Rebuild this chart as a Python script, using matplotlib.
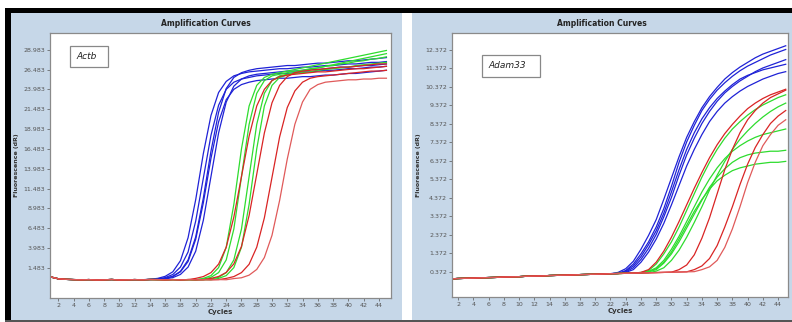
import numpy as np
import matplotlib
matplotlib.use("Agg")
import matplotlib.pyplot as plt
from matplotlib.patches import Rectangle

# ---- data ----
x_ticks = list(range(2, 46, 2))

# Actb (left)
actb_yticks = [1.483 + 2.5 * k for k in range(12)]
actb_base = [0.35, 0.12, 0.05, 0.02, 0.0, 0.02, -0.02, 0.0, 0.03, -0.02,
             0.0, 0.02, 0.0, 0.03, 0.02, 0.0, 0.02, 0.0, 0.02, 0.0,
             0.01, 0.0, 0.02, 0.0, 0.01, 0.0, 0.02, 0.0, 0.01, 0.0]

actb_blue = [
    actb_base[:13] + [0.07, 0.17, 0.43, 1.0, 2.4, 5.3, 10.1, 15.9, 20.7, 23.6, 25.0, 25.7, 26.0, 26.2, 26.3, 26.4,
                      26.5, 26.6, 26.6, 26.7, 26.8, 26.8, 26.9, 27.0, 27.0, 27.1, 27.2, 27.2, 27.3, 27.4, 27.4, 27.5],
    actb_base[:14] + [0.1, 0.27, 0.66, 1.6, 3.5, 7.4, 12.8, 18.2, 22.0, 24.0, 24.9, 25.3, 25.5, 25.7, 25.8, 25.9,
                      26.0, 26.0, 26.1, 26.2, 26.2, 26.3, 26.4, 26.4, 26.5, 26.6, 26.6, 26.7, 26.8, 26.8, 26.9],
    actb_base[:14] + [0.07, 0.17, 0.44, 1.06, 2.5, 5.4, 10.3, 16.2, 21.1, 24.1, 25.5, 26.1, 26.4, 26.6, 26.7, 26.8,
                      26.9, 27.0, 27.0, 27.1, 27.2, 27.3, 27.3, 27.4, 27.5, 27.6, 27.6, 27.7, 27.8, 27.9, 28.0],
    actb_base[:15] + [0.11, 0.27, 0.67, 1.6, 3.6, 7.5, 13.0, 18.5, 22.4, 24.4, 25.3, 25.7, 25.9, 26.0, 26.1,
                      26.2, 26.3, 26.3, 26.4, 26.5, 26.5, 26.6, 26.7, 26.8, 26.8, 26.9, 27.0, 27.0, 27.1, 27.2],
    actb_base[:14] + [0.07, 0.16, 0.41, 1.0, 2.3, 5.1, 9.7, 15.3, 19.9, 22.7, 24.0, 24.6, 24.9, 25.1, 25.2, 25.3,
                      25.4, 25.4, 25.5, 25.6, 25.6, 25.7, 25.8, 25.8, 25.9, 26.0, 26.0, 26.1, 26.2, 26.3, 26.4],
]
actb_green = [
    actb_base[:20] + [0.17, 0.52, 1.53, 4.1, 9.5, 16.5, 21.9, 24.5, 25.5, 25.9, 26.1, 26.3, 26.5, 26.7, 26.9,
                      27.1, 27.3, 27.5, 27.7, 27.9, 28.1, 28.3, 28.5, 28.7, 28.9],
    actb_base[:20] + [0.1, 0.3, 0.9, 2.5, 6.4, 13.0, 19.6, 23.5, 25.1, 25.7, 25.9, 26.1, 26.3, 26.4, 26.6,
                      26.7, 26.9, 27.0, 27.2, 27.3, 27.5, 27.6, 27.8, 27.9, 28.1],
    actb_base[:21] + [0.1, 0.3, 0.9, 2.5, 6.4, 13.0, 19.6, 23.5, 25.1, 25.7, 25.9, 26.1, 26.3, 26.5, 26.7,
                      26.9, 27.1, 27.3, 27.5, 27.7, 27.9, 28.1, 28.3, 28.5],
    actb_base[:22] + [0.17, 0.52, 1.53, 4.1, 9.5, 16.5, 21.9, 24.5, 25.5, 25.8, 26.0, 26.1, 26.2, 26.4, 26.5,
                      26.6, 26.7, 26.8, 27.0, 27.1, 27.2, 27.3, 27.4],
]
actb_red = [
    actb_base[:19] + [0.17, 0.4, 0.9, 1.97, 4.1, 7.9, 13.0, 18.1, 21.9, 24.0, 25.1, 25.6, 25.8, 25.9, 26.0,
                      26.1, 26.2, 26.2, 26.3, 26.4, 26.5, 26.6, 26.6, 26.7, 26.8, 26.9],
    actb_base[:21] + [0.17, 0.41, 0.92, 2.0, 4.2, 8.1, 13.3, 18.5, 22.3, 24.5, 25.6, 26.1, 26.3, 26.4, 26.5,
                      26.6, 26.7, 26.8, 26.8, 26.9, 27.0, 27.1, 27.2, 27.2],
    actb_base[:23] + [0.17, 0.4, 0.9, 1.95, 4.1, 7.8, 12.9, 18.0, 21.7, 23.8, 24.9, 25.4, 25.6, 25.7, 25.8,
                      25.9, 26.0, 26.1, 26.2, 26.3, 26.3, 26.4],
    actb_base[:24] + [0.15, 0.25, 0.58, 1.3, 2.8, 5.6, 10.0, 15.2, 19.6, 22.4, 24.0, 24.6, 24.9, 25.0, 25.1,
                      25.2, 25.2, 25.3, 25.3, 25.4, 25.4],
]

# Adam33 (right)
adam_yticks = [0.372 + k for k in range(13)]
adam_base = [0.0, 0.02, 0.03, 0.04, 0.06, 0.07, 0.08, 0.1, 0.11, 0.12, 0.14, 0.15, 0.16, 0.18, 0.19,
             0.2, 0.21, 0.23, 0.24, 0.25, 0.26, 0.28, 0.29, 0.3, 0.31, 0.32, 0.33, 0.34, 0.35, 0.36,
             0.37, 0.38, 0.39, 0.4, 0.41]

adam_blue = [
    adam_base[:23] + [0.45, 0.8, 1.35, 2.0, 2.8, 3.8, 5.0, 6.3, 7.4, 8.3, 9.1, 9.7, 10.2, 10.6, 10.95,
                      11.25, 11.5, 11.7, 11.9, 12.1, 12.25, 12.4],
    adam_base[:23] + [0.38, 0.6, 1.05, 1.65, 2.4, 3.35, 4.4, 5.6, 6.7, 7.6, 8.4, 9.05, 9.6, 10.05, 10.4,
                      10.7, 10.95, 11.2, 11.4, 11.55, 11.7, 11.85],
    adam_base[:22] + [0.35, 0.55, 0.95, 1.6, 2.35, 3.2, 4.3, 5.45, 6.6, 7.65, 8.5, 9.25, 9.85, 10.35, 10.8,
                      11.15, 11.45, 11.7, 11.95, 12.15, 12.3, 12.45, 12.6],
    adam_base[:23] + [0.35, 0.5, 0.9, 1.45, 2.15, 3.0, 4.0, 5.05, 6.1, 7.0, 7.8, 8.5, 9.05, 9.5, 9.85,
                      10.15, 10.4, 10.6, 10.8, 10.95, 11.1, 11.2],
    adam_base[:23] + [0.42, 0.7, 1.2, 1.85, 2.6, 3.55, 4.7, 5.9, 7.0, 7.9, 8.65, 9.25, 9.75, 10.15, 10.5,
                      10.8, 11.0, 11.15, 11.3, 11.4, 11.5, 11.6],
]
adam_green = [
    adam_base[:25] + [0.35, 0.45, 0.8, 1.35, 2.0, 2.8, 3.7, 4.6, 5.5, 6.3, 7.0, 7.6, 8.1, 8.5, 8.85,
                      9.15, 9.4, 9.6, 9.8, 9.95],
    adam_base[:26] + [0.4, 0.6, 1.0, 1.6, 2.3, 3.1, 3.9, 4.7, 5.4, 6.0, 6.5, 6.9, 7.2, 7.45, 7.65,
                      7.8, 7.9, 8.0, 8.1],
    adam_base[:26] + [0.38, 0.5, 0.85, 1.35, 2.0, 2.75, 3.5, 4.25, 4.95, 5.5, 5.95, 6.3, 6.55, 6.7, 6.8,
                      6.85, 6.9, 6.9, 6.95],
    adam_base[:27] + [0.42, 0.6, 1.0, 1.55, 2.25, 3.05, 3.9, 4.8, 5.6, 6.35, 7.0, 7.55, 8.0, 8.4, 8.75,
                      9.05, 9.3, 9.5],
    adam_base[:26] + [0.4, 0.55, 0.9, 1.45, 2.15, 2.9, 3.65, 4.3, 4.85, 5.3, 5.6, 5.85, 6.0, 6.1, 6.2,
                      6.25, 6.3, 6.3, 6.35],
]
adam_red = [
    adam_base[:25] + [0.35, 0.5, 0.9, 1.5, 2.25, 3.1, 4.0, 4.9, 5.75, 6.55, 7.25, 7.85, 8.35, 8.8, 9.2,
                      9.5, 9.75, 9.95, 10.1, 10.25],
    adam_base[:30] + [0.5, 0.75, 1.3, 2.2, 3.3, 4.6, 5.9, 7.0, 7.9, 8.6, 9.1, 9.5, 9.8, 10.0, 10.2],
    adam_base[:32] + [0.5, 0.7, 1.1, 1.8, 2.8, 3.9, 5.1, 6.2, 7.1, 7.8, 8.4, 8.8, 9.1],
    adam_base[:33] + [0.5, 0.65, 1.0, 1.7, 2.7, 3.9, 5.2, 6.3, 7.2, 7.8, 8.3, 8.6],
]

BLUE = "#1f22d6"
GREEN = "#2edc2e"
RED = "#d92424"
PANEL = "#c6d7e8"

fig = plt.figure(figsize=(7.92, 3.22), dpi=100)
fig.patch.set_facecolor("white")

def px(x0, y0, x1, y1):
    # pixel box -> figure fraction rect
    return (x0 / 792, 1 - y1 / 322, (x1 - x0) / 792, (y1 - y0) / 322)

# backgrounds and frame bits, kept under the axes
for (x0, y0, x1, y1), c in [((11, 13, 402, 320), PANEL), ((412, 13, 792, 320), PANEL),
                            ((5, 8, 792, 13), "black"), ((5, 8, 11, 320), "black"),
                            ((5, 320, 792, 322), "#555555")]:
    l, b, w, h = px(x0, y0, x1, y1)
    fig.patches.append(Rectangle((l, b), w, h, transform=fig.transFigure,
                                 facecolor=c, edgecolor="none", zorder=-5))

panels = [
    dict(rect=px(50, 33, 391, 298), ylim=(-2.3, 31.1), yticks=actb_yticks,
         xlim=(0.9, 45.6), name="Actb", box=(70, 46, 108, 67), cx=206,
         series=[(actb_blue, BLUE), (actb_green, GREEN), (actb_red, RED)]),
    dict(rect=px(452, 33, 788, 297), ylim=(-0.98, 13.29), yticks=adam_yticks,
         xlim=(1.2, 45.3), name="Adam33", box=(482, 55, 540, 77), cx=602,
         series=[(adam_blue, BLUE), (adam_green, GREEN), (adam_red, RED)]),
]

for p in panels:
    ax = fig.add_axes(p["rect"])
    ax.set_facecolor("white")
    for curves, col in p["series"]:
        for k, y in enumerate(curves):
            cyc = np.arange(1, len(y) + 1)
            c = col
            if col == RED and k == len(curves) - 1:
                c = "#e05a5a"
            ax.plot(cyc, y, color=c, lw=0.9)
    ax.set_xlim(*p["xlim"])
    ax.set_ylim(*p["ylim"])
    ax.set_xticks(x_ticks)
    ax.set_yticks(p["yticks"])
    ax.set_yticklabels(["%.3f" % v for v in p["yticks"]])
    ax.tick_params(labelsize=4.5, colors="#555555", length=2, width=0.5, pad=1.5)
    for s in ax.spines.values():
        s.set_color("#8a8a8a")
        s.set_linewidth(0.9)
    ax.set_xlabel("Cycles", fontsize=5, fontweight="bold", color="#333333", labelpad=1)
    ax.set_ylabel("Fluorescence (dR)", fontsize=4.5, fontweight="bold", color="#333333", labelpad=3)
    fig.text(p["cx"] / 792, 1 - 23 / 322, "Amplification Curves", ha="center", va="center",
             fontsize=5.5, fontweight="bold", color="#222222")
    bx0, by0, bx1, by1 = p["box"]
    l, b, w, h = px(bx0, by0, bx1, by1)
    fig.patches.append(Rectangle((l, b), w, h, transform=fig.transFigure, facecolor="white",
                                 edgecolor="#888888", lw=0.9, zorder=5))
    fig.text(l + 0.008, b + h / 2, p["name"], ha="left", va="center", fontsize=6.5,
             style="italic", color="#222222", zorder=6)

fig.savefig("out.png", dpi=100)
